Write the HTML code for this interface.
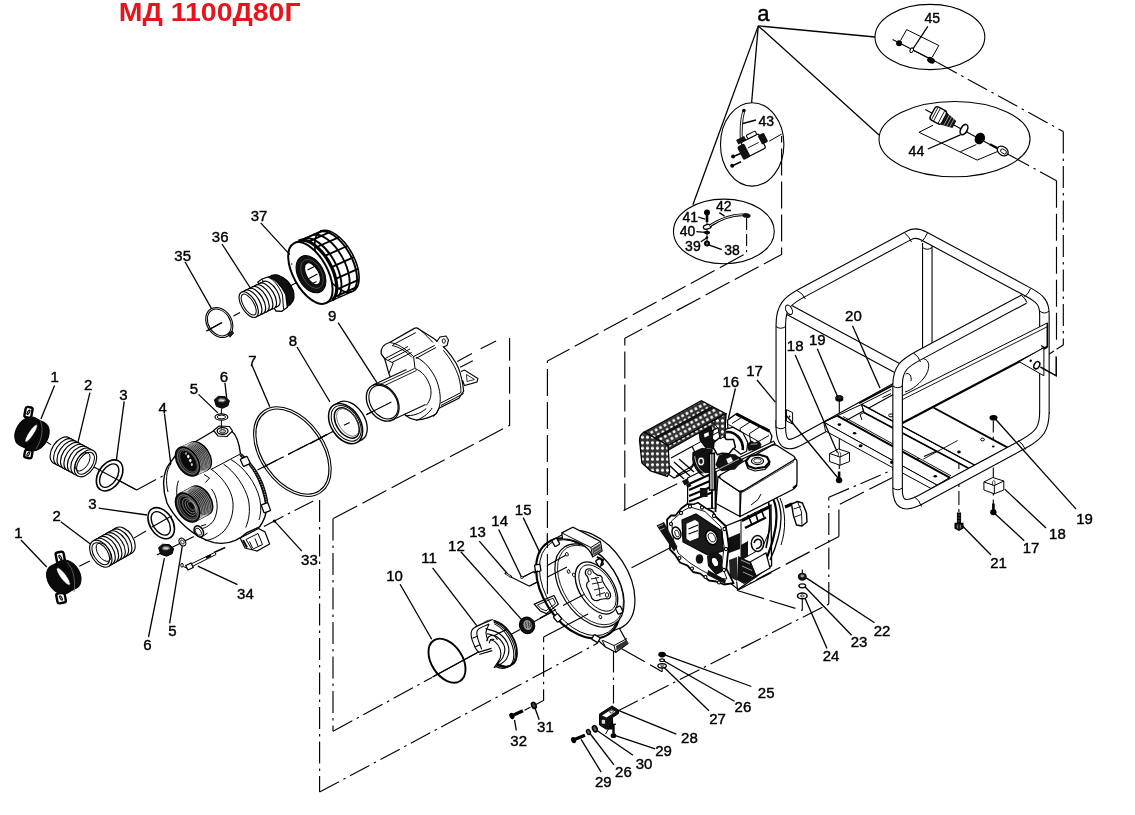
<!DOCTYPE html>
<html><head><meta charset="utf-8"><title>МД 1100Д80Г</title>
<style>
html,body{margin:0;padding:0;background:#fff;}
body{width:1135px;height:815px;overflow:hidden;font-family:"Liberation Sans",sans-serif;}
svg{display:block;}
svg text{font-family:"Liberation Sans",sans-serif;fill:#000;stroke:#000;stroke-width:0.4px;}
.l{stroke:#000;stroke-width:1;fill:none;}
.ld{stroke:#000;stroke-width:1.3;fill:none;}
.dd{stroke:#000;stroke-width:1.15;fill:none;stroke-dasharray:22 5 2.5 5;}
.dl{stroke:#000;stroke-width:1.15;fill:none;stroke-dasharray:27 6;}
.t{font-size:15px;text-anchor:middle;}
.ts{font-size:14px;text-anchor:middle;}
.w{fill:#fff;stroke:#000;stroke-width:1;}
.k{fill:#000;stroke:#000;stroke-width:1;}
</style></head><body>
<svg width="1135" height="815" viewBox="0 0 1135 815" style="will-change:transform">
<rect x="0" y="0" width="1135" height="815" fill="#fff"/>
<!-- 05_dashed.svg -->
<g class="dd">
<path d="M136.6,489.9 L176,469"/>
<path d="M257.5,470.1 L327,434.5"/>
<path d="M263.9,526.4 L313.3,500.9"/>
<path d="M319.6,500 L319.6,792.1"/>
<path d="M319.6,792.1 L598,643"/>
<path d="M333,518.6 L333,731.3"/>
<path d="M333,731.3 L432,677.4"/>
<path d="M618.2,710.8 L828.8,604"/>
<path d="M828.8,604 L828.8,497.3"/>
<path d="M828.8,497.3 L958.4,441.6"/>
<path d="M613.5,650.6 L613.5,703.4"/>
<path d="M937.5,62.6 L1063.3,131.5"/>
<path d="M1063.3,131.5 L1063.3,345"/>
<path d="M1009.8,155.2 L1056.5,180.7"/>
<path d="M533.9,705.4 L543.6,700.4 L543.6,637"/>
</g>
<g class="dl">
<path d="M333.3,518.6 L509.6,425.3 L509.6,338.1"/>
<path d="M543.6,637 L590,613"/>
<path d="M547.4,594 L547.4,361.1 L746.6,253.2"/>
<path d="M624.8,510.6 L624.8,338.3 L781.6,254.5 L781.6,136"/>
<path d="M623.5,510.5 L681.7,481.5"/>
<path d="M838.9,536.6 L838.9,504.7 L892.1,477.7"/>
<path d="M838.9,536.6 L750.4,582.8"/>
<path d="M738.1,590.7 L802.3,610.5"/>
<path d="M621.3,648.5 L662.1,671.7"/>
<path d="M1056.5,180.7 L1056.5,342.3"/>
<path d="M1063.3,345 L1038.6,360.8" style="stroke-dasharray:8 3"/>
</g>
<g class="l" style="stroke-width:1.1">
<path d="M46.7,442 L51,444.6 M91.6,465.7 L136.6,489.9"/>
<path d="M79.3,566.3 L89.9,561 M133.9,538.1 L146,531 M152,527 L172,516"/>
<path d="M156.8,554.9 L193.8,536.4"/>
<path d="M310,443.8 L333.3,431.2 M343.9,425.3 L349.7,422.4 M366.2,414.7 L391.4,402.1"/>
<path d="M457.3,361.4 L471.9,353.6 M460.2,367.2 L472.8,360.8 M480.6,348.8 L496.1,341"/>
<path d="M432.6,677 L478,652.3 M510,635 L520,629.5 M534,621.8 L551,612.5 M560,607.6 L584,594.5 M631.6,567.8 L672.1,546.7"/>
<path d="M958.4,441.6 L958.4,449"/>
<path d="M802.3,598 L802.3,610.5 M802.3,569.5 L802.3,574"/>
<path d="M662.1,667.5 L662.1,671.7"/>
<path d="M925.2,109.4 L1009.8,155.2"/>
<path d="M892.6,39.6 L937.5,62.6"/>
<path d="M746.6,217.9 L746.6,252.2" style="stroke-dasharray:12 4"/>
<path d="M958.9,455 L958.9,512" style="stroke-dasharray:14 4"/>
<path d="M839.3,401 L839.3,476" style="stroke-dasharray:14 4"/>
<path d="M993.3,420.4 L993.3,445.6 M993.3,467.4 L993.3,508" style="stroke-dasharray:12 4"/>
<path d="M529.5,586.1 L566,567.5 M533.9,572.9 L565.6,555.2" style="stroke-dasharray:11 4"/>
<path d="M511,577 L529.5,586.3 M522.5,577.3 L533.9,571.5"/>
</g>

<!-- 10_ellipses.svg -->
<g class="l" style="stroke-width:1.1">
<ellipse cx="929.9" cy="37" rx="54.9" ry="32.6"/>
<ellipse cx="954.5" cy="139.1" rx="75.5" ry="37.6"/>
<ellipse cx="752.2" cy="144.4" rx="31.7" ry="41.7"/>
<ellipse cx="723.9" cy="231.4" rx="50.4" ry="32.3"/>
</g>
<!-- 45 contents -->
<g class="l">
<path d="M900.5,40.5 L906.7,29.6 L938.8,45.5 L932.2,57.3"/>
<path d="M912.9,50.2 L930,59"/>
</g>
<circle cx="899.1" cy="43.2" r="3" fill="#000"/>
<ellipse cx="911.7" cy="50.2" rx="1.6" ry="2.4" transform="rotate(25 911.7 50.2)" fill="#fff" stroke="#000" stroke-width="1"/>
<ellipse cx="931" cy="60.3" rx="4" ry="3" transform="rotate(28 931 60.3)" fill="#000"/>
<!-- 44 contents -->
<g class="l">
<path d="M933.1,125.2 L919,132.3 L977.2,160.1 L999.2,150.8"/>
<path d="M960.4,151.7 L976.3,144.6"/>
</g>
<g transform="rotate(28 942 118)">
<rect x="931" y="110" width="13" height="15" rx="3" fill="#fff" stroke="#000" stroke-width="1.4"/>
<path d="M933.5,110.5v14 M936,110v15 M941,110v15" stroke="#000" stroke-width="0.8"/>
<path d="M944,111 L956,114 L956,122 L944,124.5 Z" fill="#111"/>
<path d="M947,111.5v12.5 M950,112.5v10.5 M953,113v9.5" stroke="#fff" stroke-width="0.5"/>
</g>
<ellipse cx="964" cy="129.6" rx="3.2" ry="5.6" transform="rotate(28 964 129.6)" fill="#fff" stroke="#000" stroke-width="1.6"/>
<ellipse cx="979.8" cy="138.5" rx="5" ry="6" transform="rotate(28 979.8 138.5)" fill="#000"/>
<path d="M990,144.2 L997,148" stroke="#000" stroke-width="2.2"/>
<ellipse cx="1002.7" cy="151" rx="4.2" ry="6" transform="rotate(-55 1002.7 151)" fill="#fff" stroke="#000" stroke-width="1.3"/>
<ellipse cx="1003.5" cy="151.5" rx="2" ry="3.3" transform="rotate(-55 1003.5 151.5)" fill="#fff" stroke="#000" stroke-width="0.9"/>
<!-- 43 contents: starter motor -->
<circle cx="743.9" cy="110.5" r="1.8" fill="#000"/>
<path d="M743,111 C740.5,117 739.8,128 740.3,139 M744.5,112 C742.3,120 742,130 742.3,139" class="l" style="stroke-width:0.9"/>
<g transform="rotate(-27 752 147)">
<rect x="744" y="138" width="20" height="16" rx="2" fill="#fff" stroke="#000" stroke-width="1.2"/>
<rect x="738.5" y="140" width="8" height="15" rx="2" fill="#111"/>
<rect x="762" y="139.500" width="7" height="10" rx="1.5" fill="#111"/>
<path d="M748,146 h12" stroke="#000" stroke-width="0.8"/>
<rect x="741" y="133.5" width="9" height="5" fill="#111"/>
<rect x="752" y="134" width="10" height="4" rx="1" fill="#fff" stroke="#000" stroke-width="1"/>
</g>
<path d="M734,156.2 L741,153.2" stroke="#000" stroke-width="1.6"/><circle cx="733.1" cy="156.6" r="2" fill="#000"/>
<path d="M733,165.4 L741,161.8" stroke="#000" stroke-width="1.6"/><circle cx="732.2" cy="165.8" r="2" fill="#000"/>
<path d="M769.3,141.1 L781.6,134.1" class="l"/>
<!-- 38-42 contents -->
<circle cx="707" cy="212.6" r="3" fill="#000"/>
<path d="M707,213 V222" stroke="#000" stroke-width="2.6"/>
<path d="M707,222 V243" stroke="#000" stroke-width="1"/>
<ellipse cx="707.3" cy="226.8" rx="4" ry="2.2" transform="rotate(-15 707.3 226.8)" fill="#fff" stroke="#000" stroke-width="1.4"/>
<path d="M709.5,226 C720,219 733,214.5 743,214.8" fill="none" stroke="#000" stroke-width="2.8"/>
<path d="M709.5,226 C720,219 733,214.5 743,214.8" fill="none" stroke="#fff" stroke-width="0.9"/>
<ellipse cx="746.5" cy="215.500" rx="4.2" ry="2.4" transform="rotate(12 746.5 215.5)" fill="#111"/>
<ellipse cx="707" cy="232.5" rx="3" ry="1.8" fill="#000"/>
<circle cx="707" cy="237.5" r="1.3" fill="#000"/>
<circle cx="707" cy="243.6" r="3" fill="#000"/><circle cx="707" cy="243.6" r="1" fill="#888"/>

<!-- 20_frame_back.svg -->
<path d="M927.3,243 V353" fill="none" stroke="#000" stroke-width="10.6" stroke-linecap="butt" />
<path d="M927.3,243 V353" fill="none" stroke="#fff" stroke-width="8.4" stroke-linecap="butt" />
<path d="M922.5,247.5 Q927.3,251 932.1,247.5" class="l"/><path d="M780.8,420 V426 C780.8,447 789,446.500 800,440.5 L896,387.5" fill="none" stroke="#000" stroke-width="10.6" stroke-linecap="butt" />
<path d="M780.8,420 V426 C780.8,447 789,446.500 800,440.5 L896,387.5" fill="none" stroke="#fff" stroke-width="8.4" stroke-linecap="butt" />
<path d="M921,358.5 C929,358 931,366 926,375 C921,383 912,390 905,392" class="l"/><path d="M905.5,374 C909,372 912,376 911,381" class="l"/><path d="M780.8,428 V325 C780.8,306 788,300.500 801.4,293.2 L909.3,235.2 C914,232.600 920,233.800 924.6,236.4 L1029.5,292.8 C1040,298.500 1044.4,303 1044.4,314 V414" fill="none" stroke="#000" stroke-width="10.6" stroke-linecap="butt" />
<path d="M780.8,428 V325 C780.8,306 788,300.500 801.4,293.2 L909.3,235.2 C914,232.600 920,233.800 924.6,236.4 L1029.5,292.8 C1040,298.500 1044.4,303 1044.4,314 V414" fill="none" stroke="#fff" stroke-width="8.4" stroke-linecap="butt" />
<g class="l"><path d="M776,326.5 Q780.8,330 785.6,326.500"/><path d="M797,290.5 Q802.5,293 805.5,299"/><path d="M904.5,233 Q909,236 911.5,242"/><path d="M927.5,233 Q925,238 921.5,242"/><path d="M1030.500,288.500 Q1029,293 1024.500,297"/><path d="M1039.6,311 Q1044.4,315 1049.2,311"/><path d="M1039.6,413 Q1044.4,416.5 1049.2,413"/><path d="M776,427 Q780.8,430.5 785.6,427"/></g><path d="M786.4,409.6 L792.6,412.6 L792.6,424 L786.4,421 Z" class="w"/><circle cx="789.6" cy="416.5" r="0.9" fill="#000"/><path d="M789.3,310 L898,368.5" fill="none" stroke="#000" stroke-width="11.4"/><path d="M789.3,310 L898,368.5" fill="none" stroke="#fff" stroke-width="9.2"/><ellipse cx="789" cy="309.8" rx="3" ry="5.1" transform="rotate(-28 789 309.8)" class="w"/>
<!-- 30_base.svg -->
<!-- base rails & plates -->
<g>
<!-- right plate -->
<path d="M933.7,407.8 L1008.2,447.9 L975,465.3 L900,424 Z" fill="#fff" stroke="none"/>
<!-- rail B -->
<path d="M861.5,404.4 L975,465.3 L968.5,468.2 L864,412.5 Z" class="w"/>
<path d="M864,412.5 L968.5,468.2" stroke="#000" stroke-width="1.6" fill="none"/>
<path d="M861.5,404.4 L864,412.5 M864,412.5 L860,414.500 L862,420" stroke="#000" stroke-width="1" fill="none"/>
<!-- rail A top face -->
<path d="M823.7,422.2 L837.5,415.8 L949.7,477.7 L937.1,485.2 Z" class="w"/>
<path d="M823.7,422.2 L937.1,485.2 L931,488.5 L825.5,431 Z" class="w"/>
<path d="M937.1,485.2 L949.7,477.7 L951.800,481.500 L934.6,491 Z" class="w"/>
<g stroke="#000" fill="none">
<path d="M837.5,415.8 L949.7,477.7" stroke-width="2"/>
<path d="M843,416.5 L951,475.8" stroke-width="0.9"/>
<path d="M861.5,404.4 L975,465.3" stroke-width="1.3"/>
<path d="M933.7,407.8 L1008.2,447.9" stroke-width="1.8"/>
<path d="M975,465.3 L1008.2,447.9" stroke-width="1.8"/>
<path d="M951,478.5 L975,465.3" stroke-width="1.1"/>
<path d="M859,403.3 L892.3,385.7" stroke-width="1.8"/>
<path d="M823.7,422.2 L861.500,404.4 L891,389.500" stroke-width="1"/>
<path d="M882.4,397.6 L891,393.6" stroke-width="1"/>
<path d="M923.4,459 L957.7,440.5" stroke-width="0.9"/>
</g>
<g fill="#000">
<ellipse cx="839.4" cy="424.6" rx="1.8" ry="1.3"/><ellipse cx="854.6" cy="433.2" rx="1.8" ry="1.3"/><ellipse cx="860.6" cy="445.8" rx="2" ry="1.5"/>
<ellipse cx="935.3" cy="476.2" rx="1.8" ry="1.3"/><ellipse cx="959" cy="452" rx="1.8" ry="1.4"/><ellipse cx="891.6" cy="462.3" rx="1.6" ry="1.6"/>
<ellipse cx="993.3" cy="446.5" rx="1.4" ry="1.1"/>
</g>
<ellipse cx="891" cy="415.4" rx="2.4" ry="1.5" class="w"/>
<ellipse cx="982.500" cy="439.5" rx="1.9" ry="1.4" class="w"/>
</g>
<!-- panel 20 -->
<path d="M902,396 L1047.4,322.9 L1047.4,346.7 L902,423.3 Z" class="w"/>
<path d="M902,399.8 L1047.4,326.7" class="l" style="stroke-width:0.9"/>
<path d="M902,423.3 L1047.4,346.7" stroke="#000" stroke-width="2.2" fill="none"/>
<path d="M1047.4,322.9 V347" stroke="#000" stroke-width="1.6" fill="none"/>
<path d="M1019.2,361.7 L1043.9,347.6 L1043.9,375.8 Z" class="w"/>
<ellipse cx="1036.8" cy="365.2" rx="2.6" ry="3.8" transform="rotate(30 1036.8 365.2)" fill="#fff" stroke="#000" stroke-width="1.5"/>
<circle cx="1030.7" cy="360.8" r="1.2" fill="#000"/>
<path d="M1040.4,367 L1056.2,375.8 L1056.2,356.4" stroke="#000" stroke-width="1.5" fill="none"/>
<path d="M1041,345.5 l3.500,2 l-3.500,1" stroke="#000" stroke-width="1.2" fill="none"/>

<!-- 40_frame_front.svg -->
<path d="M1044.4,412 C1044.4,428 1040,435 1023.65,443.85 L918.85,500.6 C903,508.500 897.6,503 897.6,489 V385 C897.6,368 905,363 917.85,355.95 L1024.25,299" fill="none" stroke="#000" stroke-width="10.6" stroke-linecap="butt" />
<path d="M1044.4,412 C1044.4,428 1040,435 1023.65,443.85 L918.85,500.6 C903,508.500 897.6,503 897.6,489 V385 C897.6,368 905,363 917.85,355.95 L1024.25,299" fill="none" stroke="#fff" stroke-width="8.4" stroke-linecap="butt" />
<g class="l"><path d="M1018,440.5 Q1022.5,443 1025.5,449.500"/><path d="M914.5,497 Q919.500,500 921.5,506.500"/><path d="M892.8,488 Q897.6,491.5 902.4,488"/><path d="M892.8,386 Q897.6,389.5 902.4,386"/><path d="M913.500,353 Q918.500,356 920.5,362"/><path d="M1021.5,295.5 Q1025.500,298 1027,302.5"/></g>
<!-- 50_hardware.svg -->
<!-- nuts 19 -->
<ellipse cx="839.3" cy="399" rx="4" ry="2.8" fill="#000"/><ellipse cx="839.3" cy="397.6" rx="3.6" ry="2" fill="#222" stroke="#000"/>
<ellipse cx="993.5" cy="417.8" rx="4" ry="2.8" fill="#000"/>
<!-- blocks 18 -->
<g id="blk">
<path d="M829.6,453.5 L838.5,449 L849.5,452.5 L849.5,461.500 L840,465.3 L829.6,461.5 Z" class="w"/>
<path d="M829.6,453.5 L840,457 L849.5,452.5 M840,457 V465.300" class="l"/>
<path d="M838.300,457 v-4 q1.200,-2 2.400,0 v4" class="l" style="stroke-width:0.7"/>
</g>
<use href="#blk" x="154.3" y="28.5"/>
<!-- bolts 17 -->
<g id="b17"><path d="M839.1,471.500 V478" stroke="#000" stroke-width="2.6"/><ellipse cx="839.1" cy="480.3" rx="3.2" ry="3" fill="#000"/></g>
<use href="#b17" x="154.3" y="32"/>
<!-- bolt 21 -->
<path d="M959,512.5 V524" stroke="#000" stroke-width="4.2"/><path d="M957.500,515 h3 M957.500,518 h3 M957.500,521 h3" stroke="#999" stroke-width="0.600"/>
<path d="M955.2,523.500 h7.600 v4.500 l-3.800,2.200 l-3.800,-2.200 Z" fill="#222" stroke="#000" stroke-width="1.4"/><path d="M957.500,525 v3.500 M960.500,525 v3.500" stroke="#aaa" stroke-width="0.600"/>
<!-- 22 23 24 -->
<ellipse cx="802.3" cy="576.7" rx="4.500" ry="4" fill="#111"/><ellipse cx="802.3" cy="576" rx="2" ry="1.4" fill="#999"/>
<ellipse cx="802.3" cy="585.8" rx="3.4" ry="2" fill="#fff" stroke="#000" stroke-width="1.3"/>
<ellipse cx="802.3" cy="595.9" rx="4.8" ry="2.8" fill="#fff" stroke="#000" stroke-width="1.5"/><ellipse cx="802.3" cy="595.9" rx="1.800" ry="1" fill="#fff" stroke="#000" stroke-width="0.8"/>
<!-- 25 26 27 -->
<ellipse cx="662.1" cy="654.6" rx="3.8" ry="2.8" fill="#000"/>
<ellipse cx="662.1" cy="660.2" rx="2.400" ry="1.3" fill="#fff" stroke="#000" stroke-width="1.1"/>
<ellipse cx="662.1" cy="665.8" rx="4.2" ry="2.2" fill="#fff" stroke="#000" stroke-width="1.3"/><ellipse cx="662.1" cy="665.8" rx="1.500" ry="0.8" fill="none" stroke="#000" stroke-width="0.7"/>
<!-- bracket 28 -->
<path d="M599.5,714 L612,706 L618.5,710 L618.5,713.500 L612.5,717.500 L612.5,729 L606,729 L599.5,725 Z" fill="#111" stroke="#000"/>
<path d="M602,715.500 L611.5,709.500 L615.500,711.800 L606.5,717.500 Z" fill="#fff"/>
<ellipse cx="611.500" cy="711.800" rx="2" ry="1.200" fill="#fff" stroke="#000" stroke-width="0.7"/>
<rect x="601.300" y="719.500" width="4" height="4.500" fill="#ddd" stroke="#000" stroke-width="0.6"/>
<path d="M605.5,734.1 L612.9,721.4" class="l"/>
<!-- bolt 29 right -->
<path d="M613.5,724 V733" stroke="#000" stroke-width="2.4"/><path d="M611,724.200 h5" stroke="#000" stroke-width="1.2"/><ellipse cx="613.5" cy="735.5" rx="2.800" ry="2.600" fill="#000"/>
<!-- washers 30, 26 -->
<ellipse cx="594.9" cy="728.8" rx="2.2" ry="3.2" transform="rotate(-25 594.9 728.8)" fill="#555" stroke="#000" stroke-width="1.6"/>
<ellipse cx="588.5" cy="732" rx="1.8" ry="2.600" transform="rotate(-25 588.5 732)" fill="#666" stroke="#000" stroke-width="1.3"/>
<!-- bolt 29 left -->
<path d="M574.500,739.600 L585,735.200" stroke="#000" stroke-width="3.300"/><ellipse cx="573.5" cy="740.2" rx="2.400" ry="3.200" transform="rotate(-25 573.5 740.2)" fill="#000"/>
<!-- 31 32 -->
<ellipse cx="533.9" cy="705.400" rx="2.1" ry="3.2" transform="rotate(-25 533.9 705.4)" fill="#444" stroke="#000" stroke-width="1.600"/>
<path d="M524.500,710.200 L530.500,707.300" stroke="#000" stroke-width="1.1"/>
<path d="M513,715.300 L523,710.800" stroke="#000" stroke-width="3.300"/><ellipse cx="511.800" cy="716" rx="2.400" ry="3.200" transform="rotate(-25 511.8 716)" fill="#000"/>

<!-- 60_pump_left.svg -->
<rect x="25.0" y="407.1" width="7.0" height="10.5" rx="2" fill="#fff" stroke="#000" stroke-width="2.4" transform="rotate(11 28.5 412.3)"/>
<ellipse cx="28.5" cy="412.3" rx="0.9" ry="2.4" fill="#fff" stroke="#000" stroke-width="1.2" transform="rotate(33 28.5 412.3)"/>
<rect x="24.6" y="450.0" width="7.5" height="8.0" rx="2" fill="#fff" stroke="#000" stroke-width="2.4" transform="rotate(11 28.3 454.0)"/>
<ellipse cx="28.3" cy="454.0" rx="0.9" ry="2.4" fill="#fff" stroke="#000" stroke-width="1.2" transform="rotate(33 28.3 454.0)"/>
<path d="M19.5,445.2 L28.7,450.0 L44.5,422.8 L35.3,418.0 Z" fill="#0a0a0a" stroke="none"/>
<path d="M19.5,445.2 L28.7,450.0 M44.5,422.8 L35.3,418.0" fill="none" stroke="#000" stroke-width="1"/>
<ellipse cx="36.6" cy="436.4" rx="11.0" ry="15.8" transform="rotate(33 36.6 436.4)" fill="#0a0a0a" stroke="#000" stroke-width="1" />
<ellipse cx="27.4" cy="431.6" rx="11.0" ry="15.8" transform="rotate(33 27.4 431.6)" fill="#0a0a0a" stroke="#000" stroke-width="1" />
<ellipse cx="31.2" cy="433.3" rx="2.5" ry="10.4" transform="rotate(34 31.2 433.3)" fill="#fff" stroke="#000" stroke-width="0.5" />
<path d="M40,420 C44,428 42,440 36,449" fill="none" stroke="#777" stroke-width="0.7"/><rect x="56.3" y="552.0" width="8.0" height="11.0" rx="2" fill="#fff" stroke="#000" stroke-width="2.4" transform="rotate(-11 60.3 557.5)"/>
<ellipse cx="60.3" cy="557.5" rx="0.9" ry="2.4" fill="#fff" stroke="#000" stroke-width="1.2" transform="rotate(-33 60.3 557.5)"/>
<rect x="56.8" y="593.0" width="8.5" height="10.0" rx="2" fill="#fff" stroke="#000" stroke-width="2.4" transform="rotate(-11 61.0 598.0)"/>
<ellipse cx="61.0" cy="598.0" rx="0.9" ry="2.4" fill="#fff" stroke="#000" stroke-width="1.2" transform="rotate(-33 61.0 598.0)"/>
<path d="M67.3,593.0 L76.5,588.0 L60.3,561.0 L51.1,566.0 Z" fill="#0a0a0a" stroke="none"/>
<path d="M67.3,593.0 L76.5,588.0 M60.3,561.0 L51.1,566.0" fill="none" stroke="#000" stroke-width="1"/>
<ellipse cx="68.4" cy="574.5" rx="11.0" ry="15.8" transform="rotate(-33 68.4 574.5)" fill="#0a0a0a" stroke="#000" stroke-width="1" />
<ellipse cx="59.2" cy="579.5" rx="11.0" ry="15.8" transform="rotate(-33 59.2 579.5)" fill="#0a0a0a" stroke="#000" stroke-width="1" />
<ellipse cx="63.4" cy="576.5" rx="2.9" ry="10.6" transform="rotate(-37 63.4 576.5)" fill="#fff" stroke="#000" stroke-width="0.5" />
<path d="M67,562 C73,568 76,580 74,592" fill="none" stroke="#777" stroke-width="0.7"/><path d="M53.6,463.1 L77.8,476.0 L93.2,450.6 L69.0,437.7 Z" fill="#fff" stroke="none"/>
<path d="M53.6,463.1 L77.8,476.0 M93.2,450.6 L69.0,437.7" fill="none" stroke="#000" stroke-width="1"/>
<ellipse cx="61.3" cy="450.4" rx="9.2" ry="14.9" transform="rotate(33 61.3 450.4)" fill="#fff" stroke="#000" stroke-width="1.15" />
<ellipse cx="64.8" cy="452.2" rx="9.2" ry="14.9" transform="rotate(33 64.8 452.2)" fill="#fff" stroke="#000" stroke-width="1.15" />
<ellipse cx="68.2" cy="454.1" rx="9.2" ry="14.9" transform="rotate(33 68.2 454.1)" fill="#fff" stroke="#000" stroke-width="1.15" />
<ellipse cx="71.7" cy="455.9" rx="9.2" ry="14.9" transform="rotate(33 71.7 455.9)" fill="#fff" stroke="#000" stroke-width="1.15" />
<ellipse cx="75.1" cy="457.8" rx="9.2" ry="14.9" transform="rotate(33 75.1 457.8)" fill="#fff" stroke="#000" stroke-width="1.15" />
<ellipse cx="78.6" cy="459.6" rx="9.2" ry="14.9" transform="rotate(33 78.6 459.6)" fill="#fff" stroke="#000" stroke-width="1.15" />
<ellipse cx="82.0" cy="461.5" rx="9.2" ry="14.9" transform="rotate(33 82.0 461.5)" fill="#fff" stroke="#000" stroke-width="1.15" />
<ellipse cx="85.5" cy="463.3" rx="9.2" ry="14.9" transform="rotate(33 85.5 463.3)" fill="#fff" stroke="#000" stroke-width="1.15" />
<ellipse cx="85.5" cy="463.3" rx="7.0" ry="12.3" transform="rotate(33 85.5 463.3)" fill="#fff" stroke="#000" stroke-width="1" />
<ellipse cx="82.6" cy="461.8" rx="5.8" ry="10.4" transform="rotate(33 82.6 461.8)" fill="none" stroke="#000" stroke-width="0.9" />
<path d="M116.2,527.8 L93.0,541.0 L108.6,566.4 L131.8,553.2 Z" fill="#fff" stroke="none"/>
<path d="M116.2,527.8 L93.0,541.0 M108.6,566.4 L131.8,553.2" fill="none" stroke="#000" stroke-width="1"/>
<ellipse cx="124.0" cy="540.5" rx="9.2" ry="14.9" transform="rotate(-33 124.0 540.5)" fill="#fff" stroke="#000" stroke-width="1.15" />
<ellipse cx="120.7" cy="542.4" rx="9.2" ry="14.9" transform="rotate(-33 120.7 542.4)" fill="#fff" stroke="#000" stroke-width="1.15" />
<ellipse cx="117.4" cy="544.3" rx="9.2" ry="14.9" transform="rotate(-33 117.4 544.3)" fill="#fff" stroke="#000" stroke-width="1.15" />
<ellipse cx="114.1" cy="546.2" rx="9.2" ry="14.9" transform="rotate(-33 114.1 546.2)" fill="#fff" stroke="#000" stroke-width="1.15" />
<ellipse cx="110.7" cy="548.0" rx="9.2" ry="14.9" transform="rotate(-33 110.7 548.0)" fill="#fff" stroke="#000" stroke-width="1.15" />
<ellipse cx="107.4" cy="549.9" rx="9.2" ry="14.9" transform="rotate(-33 107.4 549.9)" fill="#fff" stroke="#000" stroke-width="1.15" />
<ellipse cx="104.1" cy="551.8" rx="9.2" ry="14.9" transform="rotate(-33 104.1 551.8)" fill="#fff" stroke="#000" stroke-width="1.15" />
<ellipse cx="100.8" cy="553.7" rx="9.2" ry="14.9" transform="rotate(-33 100.8 553.7)" fill="#fff" stroke="#000" stroke-width="1.15" />
<ellipse cx="100.8" cy="553.7" rx="7.0" ry="12.3" transform="rotate(-33 100.8 553.7)" fill="#fff" stroke="#000" stroke-width="1" />
<ellipse cx="103.6" cy="552.1" rx="5.8" ry="10.4" transform="rotate(-33 103.6 552.1)" fill="none" stroke="#000" stroke-width="0.9" />
<ellipse cx="109.6" cy="475.4" rx="11.3" ry="17.0" transform="rotate(33 109.6 475.4)" fill="#fff" stroke="#000" stroke-width="1.6" />
<ellipse cx="109.2" cy="475.6" rx="7.8" ry="13.0" transform="rotate(33 109.2 475.6)" fill="#fff" stroke="#000" stroke-width="1.4" />
<ellipse cx="161.2" cy="523.2" rx="11.3" ry="17.0" transform="rotate(-33 161.2 523.2)" fill="#fff" stroke="#000" stroke-width="1.6" />
<ellipse cx="160.8" cy="523.4" rx="7.8" ry="13.0" transform="rotate(-33 160.8 523.4)" fill="#fff" stroke="#000" stroke-width="1.4" />

<!-- 62_housing4.svg -->
<path d="M194,442.5 L213.500,431 C218,427.500 228,427.500 232,431.500 C238,436 239.500,446 240.5,454 C253,466 262.5,484 266.2,506 C267.2,515 263.500,521.5 259.5,527 L247,532.5 C238,541 226,545 214,542.6 C194,537.5 176,520.5 167,503 C161.800,488 162.500,472 170,463 C175,455 184,447 194,442.5 Z" fill="#fff" stroke="#000" stroke-width="1.4"/>
<g fill="none" stroke="#000" stroke-width="1"><path d="M210.7,468.8 C221,476 231,488 232.8,501 C234,512 231,523 224,531 C218,537 211,540 205.2,540.5"/><path d="M223.6,464.2 C234,471 245,486 248.500,500 C250.500,511 249,520 245.7,527.5"/><path d="M231,459.6 C244,467 256,483 259.800,499 C261.500,508 260.800,514 259,520"/><path d="M240.2,454 L210.7,469.7"/><path d="M178.5,480.7 C176,487 176,497 179,505 M211.500,489 C218,497 219,510 214,520 C210,526 204,529 198,529"/><path d="M170.8,464 C166,470 165.5,482 168,492"/></g>
<path d="M240.5,454.5 C251,463.500 259.5,476 263.500,489 C266,497 267,503 266.8,508" fill="none" stroke="#111" stroke-width="3.4"/>
<path d="M240.5,454.5 C251,463.500 259.5,476 263.500,489 C266,497 267,503 266.8,508" fill="none" stroke="#fff" stroke-width="0.8" stroke-dasharray="1 1.6"/>
<rect x="241.500" y="457.500" width="7.500" height="8" rx="1" fill="#fff" stroke="#000" stroke-width="1.3" transform="rotate(-25 245 461.5)"/>
<rect x="262.5" y="503.500" width="7" height="8.500" rx="1" fill="#fff" stroke="#000" stroke-width="1.3" transform="rotate(-20 266 508)"/>
<path d="M213.500,430.500 L219,426 L229.500,426.500 L232.500,431 L227,436.500 L218,436 Z" fill="#fff" stroke="#000" stroke-width="1.2"/>
<ellipse cx="222.6" cy="431.0" rx="5.4" ry="3.4" fill="#fff" stroke="#000" stroke-width="1.3" />
<ellipse cx="222.6" cy="431.3" rx="3.0" ry="1.8" fill="#bbb" stroke="#000" stroke-width="0.8" />
<path d="M240.2,538 L258.500,528.500 L265,532 L269.6,544 L257,551 L245,548 Z" fill="#fff" stroke="#000" stroke-width="1.2"/>
<path d="M246,539.500 L258,533.500 L262.500,544.500 L252,549.500 Z M249.500,541.500 L252.500,548 M255,538.500 L258,546" fill="none" stroke="#000" stroke-width="1"/>
<path d="M243,540 l4,7.500" stroke="#000" stroke-width="2"/>
<ellipse cx="198.8" cy="531.4" rx="4.2" ry="6.0" transform="rotate(-33 198.8 531.4)" fill="#fff" stroke="#000" stroke-width="1.5" />
<ellipse cx="198.3" cy="531.7" rx="2.4" ry="4.0" transform="rotate(-33 198.3 531.7)" fill="#fff" stroke="#000" stroke-width="0.9" />
<path d="M201,526 L206,524.500 M202.500,536.500 L207.500,533" stroke="#000" stroke-width="1" fill="none"/>
<path d="M195.3,475.5 L207.3,470.1 L191.7,442.3 L179.7,447.7 Z" fill="#222" stroke="none"/>
<path d="M195.3,475.5 L207.3,470.1 M191.7,442.3 L179.7,447.7" fill="none" stroke="#000" stroke-width="1.2"/>
<ellipse cx="199.5" cy="456.2" rx="10.0" ry="16.0" transform="rotate(-33 199.5 456.2)" fill="#222" stroke="#000" stroke-width="1.2" />
<ellipse cx="188.8" cy="461.0" rx="10.0" ry="16.0" transform="rotate(-33 188.8 461.0)" fill="none" stroke="#ddd" stroke-width="0.5" />
<ellipse cx="190.2" cy="460.4" rx="10.0" ry="16.0" transform="rotate(-33 190.2 460.4)" fill="none" stroke="#ddd" stroke-width="0.5" />
<ellipse cx="191.5" cy="459.8" rx="10.0" ry="16.0" transform="rotate(-33 191.5 459.8)" fill="none" stroke="#ddd" stroke-width="0.5" />
<ellipse cx="192.8" cy="459.2" rx="10.0" ry="16.0" transform="rotate(-33 192.8 459.2)" fill="none" stroke="#ddd" stroke-width="0.5" />
<ellipse cx="194.2" cy="458.6" rx="10.0" ry="16.0" transform="rotate(-33 194.2 458.6)" fill="none" stroke="#ddd" stroke-width="0.5" />
<ellipse cx="195.5" cy="458.0" rx="10.0" ry="16.0" transform="rotate(-33 195.5 458.0)" fill="none" stroke="#ddd" stroke-width="0.5" />
<ellipse cx="196.8" cy="457.4" rx="10.0" ry="16.0" transform="rotate(-33 196.8 457.4)" fill="none" stroke="#ddd" stroke-width="0.5" />
<ellipse cx="198.2" cy="456.8" rx="10.0" ry="16.0" transform="rotate(-33 198.2 456.8)" fill="none" stroke="#ddd" stroke-width="0.5" />
<ellipse cx="187.5" cy="461.6" rx="10.0" ry="16.0" transform="rotate(-33 187.5 461.6)" fill="#222" stroke="#000" stroke-width="1.4" />
<ellipse cx="187.9" cy="461.4" rx="8.5" ry="14.0" transform="rotate(-33 187.9 461.4)" fill="none" stroke="#bbb" stroke-width="0.5" />
<ellipse cx="188.4" cy="461.2" rx="7.0" ry="12.2" transform="rotate(-33 188.4 461.2)" fill="#0a0a0a" stroke="#888" stroke-width="0.5" />
<ellipse cx="188.300" cy="456.500" rx="1.2" ry="1.800" fill="#fff"/><ellipse cx="190.300" cy="460.500" rx="1.2" ry="1.700" fill="#eee"/><ellipse cx="191.800" cy="464.500" rx="1" ry="1.500" fill="#ccc"/><ellipse cx="186" cy="453.500" rx="0.800" ry="1.200" fill="#ccc"/>
<path d="M195.8,521.3 L209.1,514.1 L192.5,486.7 L179.2,493.9 Z" fill="#222" stroke="none"/>
<path d="M195.8,521.3 L209.1,514.1 M192.5,486.7 L179.2,493.9" fill="none" stroke="#000" stroke-width="1.2"/>
<ellipse cx="200.8" cy="500.4" rx="10.0" ry="16.0" transform="rotate(-33 200.8 500.4)" fill="#222" stroke="#000" stroke-width="1.2" />
<ellipse cx="189.0" cy="506.8" rx="10.0" ry="16.0" transform="rotate(-33 189.0 506.8)" fill="none" stroke="#ddd" stroke-width="0.5" />
<ellipse cx="190.5" cy="506.0" rx="10.0" ry="16.0" transform="rotate(-33 190.5 506.0)" fill="none" stroke="#ddd" stroke-width="0.5" />
<ellipse cx="191.9" cy="505.2" rx="10.0" ry="16.0" transform="rotate(-33 191.9 505.2)" fill="none" stroke="#ddd" stroke-width="0.5" />
<ellipse cx="193.4" cy="504.4" rx="10.0" ry="16.0" transform="rotate(-33 193.4 504.4)" fill="none" stroke="#ddd" stroke-width="0.5" />
<ellipse cx="194.9" cy="503.6" rx="10.0" ry="16.0" transform="rotate(-33 194.9 503.6)" fill="none" stroke="#ddd" stroke-width="0.5" />
<ellipse cx="196.4" cy="502.8" rx="10.0" ry="16.0" transform="rotate(-33 196.4 502.8)" fill="none" stroke="#ddd" stroke-width="0.5" />
<ellipse cx="197.8" cy="502.0" rx="10.0" ry="16.0" transform="rotate(-33 197.8 502.0)" fill="none" stroke="#ddd" stroke-width="0.5" />
<ellipse cx="199.3" cy="501.2" rx="10.0" ry="16.0" transform="rotate(-33 199.3 501.2)" fill="none" stroke="#ddd" stroke-width="0.5" />
<ellipse cx="187.5" cy="507.6" rx="10.0" ry="16.0" transform="rotate(-33 187.5 507.6)" fill="#222" stroke="#000" stroke-width="1.4" />
<ellipse cx="187.9" cy="507.4" rx="8.5" ry="14.0" transform="rotate(-33 187.9 507.4)" fill="none" stroke="#bbb" stroke-width="0.5" />
<ellipse cx="188.4" cy="507.2" rx="7.0" ry="12.2" transform="rotate(-33 188.4 507.2)" fill="#0a0a0a" stroke="#888" stroke-width="0.5" />
<ellipse cx="189.6" cy="506.8" rx="5.6" ry="9.6" transform="rotate(-33 189.6 506.8)" fill="none" stroke="#bbb" stroke-width="0.55" />
<ellipse cx="190.5" cy="506.4" rx="4.2" ry="7.4" transform="rotate(-33 190.5 506.4)" fill="none" stroke="#bbb" stroke-width="0.55" />
<ellipse cx="191.4" cy="505.9" rx="2.8" ry="5.0" transform="rotate(-33 191.4 505.9)" fill="none" stroke="#bbb" stroke-width="0.55" />
<path d="M204,474.500 L209.500,478 L205.500,482.500" fill="none" stroke="#000" stroke-width="1"/>

<!-- 64_small_pump.svg -->
<g transform="translate(221.4 402.3)"><path d="M-7,-2.500 L-3,-6 L4,-5.500 L8,-1.500 L6.500,3.500 L1,6 L-5,4 Z" fill="#111" stroke="#000" stroke-width="1"/><path d="M-4,-2.500 L-1,-4.500 L3.500,-4 L5,-1.500 L1.500,0.500 L-3,0 Z" fill="#888" stroke="#000" stroke-width="0.6"/><path d="M-2,-2.200 L2.500,-1.800" stroke="#fff" stroke-width="0.9"/></g>
<ellipse cx="221.4" cy="417.0" rx="6.4" ry="3.2" fill="#fff" stroke="#000" stroke-width="1.2" />
<ellipse cx="221.4" cy="417.0" rx="4.2" ry="1.9" fill="#fff" stroke="#000" stroke-width="1" />
<path d="M221.4,408.500 V414 M221.400,420.500 V428.500" stroke="#000" stroke-width="1" fill="none"/>
<g transform="translate(165.6 550.2)"><path d="M-7,-2.500 L-3,-6 L4,-5.500 L8,-1.500 L6.500,3.500 L1,6 L-5,4 Z" fill="#111" stroke="#000" stroke-width="1"/><path d="M-4,-2.500 L-1,-4.500 L3.500,-4 L5,-1.500 L1.500,0.500 L-3,0 Z" fill="#888" stroke="#000" stroke-width="0.6"/><path d="M-2,-2.200 L2.500,-1.800" stroke="#fff" stroke-width="0.9"/></g>
<ellipse cx="182.4" cy="542.0" rx="3.0" ry="4.3" transform="rotate(-33 182.4 542.0)" fill="#fff" stroke="#000" stroke-width="1.2" />
<ellipse cx="182.4" cy="542.0" rx="1.4" ry="2.3" transform="rotate(-33 182.4 542.0)" fill="#fff" stroke="#000" stroke-width="0.8" />
<path d="M225.200,547.500 L214,552.500" stroke="#000" stroke-width="1.400" fill="none"/>
<path d="M215,552.300 L190,564.500 L191.200,567 L216,554.500 Z" fill="#fff" stroke="#000" stroke-width="1"/>
<path d="M211,555.200 L206,557.700" stroke="#000" stroke-width="2.400"/>
<rect x="186.500" y="564" width="6" height="5" fill="#fff" stroke="#000" stroke-width="1.2" transform="rotate(-26 189.5 566.5)"/>
<ellipse cx="182.0" cy="565.2" rx="1.2" ry="2.0" fill="#fff" stroke="#000" stroke-width="1" />
<path d="M183.200,566.500 L187,568.200" stroke="#000" stroke-width="1"/>
<circle cx="274.4" cy="521" r="1.600" fill="#000"/>

<!-- 66_mid.svg -->
<ellipse cx="292.4" cy="451.6" rx="49.8" ry="32.0" transform="rotate(55 292.4 451.6)" fill="none" stroke="#000" stroke-width="1.1" />
<ellipse cx="292.4" cy="451.6" rx="47.5" ry="29.7" transform="rotate(55 292.4 451.6)" fill="none" stroke="#000" stroke-width="1.1" />
<path d="M356.7,442.6 L361.3,440.2 L339.1,402.2 L334.5,404.6 Z" fill="#333" stroke="none"/>
<path d="M356.7,442.6 L361.3,440.2 M339.1,402.2 L334.5,404.6" fill="none" stroke="#000" stroke-width="1"/>
<ellipse cx="350.2" cy="421.2" rx="14.5" ry="22.0" transform="rotate(-33 350.2 421.2)" fill="#fff" stroke="#000" stroke-width="1.3" />
<ellipse cx="345.6" cy="423.6" rx="14.5" ry="22.0" transform="rotate(-33 345.6 423.6)" fill="#fff" stroke="#000" stroke-width="1.5" />
<ellipse cx="346.2" cy="423.3" rx="12.6" ry="19.6" transform="rotate(-33 346.2 423.3)" fill="none" stroke="#000" stroke-width="1" />
<ellipse cx="346.8" cy="423.0" rx="10.2" ry="16.8" transform="rotate(-33 346.8 423.0)" fill="#fff" stroke="#000" stroke-width="1.5" />
<ellipse cx="347.8" cy="422.4" rx="9.0" ry="15.4" transform="rotate(-33 347.8 422.4)" fill="none" stroke="#555" stroke-width="0.7" />
<path d="M381.2,353.8 C380.500,347 384,344 389.6,342.5 L414.3,328.4 C415.500,327.800 416.500,327.800 417.2,328.1 L433.4,338.3 C440,343 450,353 456,363 C460,370 462.500,380 463.7,391.2 L458.8,398.3 L439,408.2 L436.2,413.8 C432,417 428,418.700 416.5,420.2 C412,419.500 408,417.3 405.2,415.2 L388.9,373.6 L384.7,358.8 Z" fill="#fff" stroke="#000" stroke-width="1.2"/>
<g fill="none" stroke="#000" stroke-width="1"><path d="M381.2,353.8 L384.7,358.8 L393.2,363 L388.9,373.6"/><path d="M389.600,342.500 C396,343 405,348 413.6,356.600 L415,368.6"/><path d="M392,345.500 C398,346.500 406,351 412,357.500"/><path d="M393.2,344.6 L415.8,332.6 M384.7,358.8 L408,346.500 M388.2,360.2 L410,349 M392,362.500 L411.500,352.500"/><path d="M413.6,356.6 L434.8,345.3 M415.8,358.500 L436,347.500"/><path d="M417.2,328.1 C420,329.500 425,334 433,342.500"/><path d="M415.8,357.3 C424,360 433,371 436.9,381.3 C440,390 441.500,400 439,408.2 C437.500,412 436,414.500 433.4,416.6"/><path d="M415,368.6 C422,371 428,378 430.6,388 C432,395 430,401 426.3,405.3"/><path d="M443.3,350.3 C450,358 456,368 458.8,377.1 C460.500,384 461,388 460.9,392.6 L440.5,403.2"/><path d="M463.7,393.500 L441,405.500"/><path d="M405.2,415.2 C412,416.500 420,414 426.3,408.500 M416.500,420.200 C424,417.500 430,412 432,408"/></g>
<path d="M436.500,342 L440,337 L446,336 L448.500,340 L447,345.500 L443,347" fill="#fff" stroke="#000" stroke-width="1.1"/><ellipse cx="443.800" cy="341" rx="1.600" ry="2.200" fill="#fff" stroke="#000" stroke-width="0.9"/>
<path d="M460.9,371.5 L464.500,370 L477.9,378.500 L477,382 L464.4,385.6 L462.500,380" fill="#fff" stroke="#000" stroke-width="1.1"/><path d="M466.500,374.500 L474.500,379.500 L467,381.500 Z" fill="none" stroke="#000" stroke-width="0.8"/>
<path d="M392.3,420.1 L425.6,404.5 L406.4,369.5 L373.1,385.1 Z" fill="#fff" stroke="none"/>
<path d="M392.3,420.1 L425.6,404.5 M406.4,369.5 L373.1,385.1" fill="none" stroke="#000" stroke-width="1.1"/>
<path d="M378.500,385.200 L414.500,368.500 M381.500,387 L416.500,370.500" fill="none" stroke="#000" stroke-width="0.9"/>
<ellipse cx="382.7" cy="402.6" rx="14.6" ry="20.0" transform="rotate(-33 382.7 402.6)" fill="#fff" stroke="#000" stroke-width="1.3" />
<ellipse cx="383.5" cy="402.2" rx="12.8" ry="18.2" transform="rotate(-33 383.5 402.2)" fill="#fff" stroke="#000" stroke-width="1.1" />

<!-- 68_inlet.svg -->
<ellipse cx="219.3" cy="322.5" rx="12.4" ry="16.0" transform="rotate(-33 219.3 322.5)" fill="none" stroke="#000" stroke-width="1.1" />
<ellipse cx="219.3" cy="322.5" rx="10.8" ry="14.3" transform="rotate(-33 219.3 322.5)" fill="none" stroke="#000" stroke-width="1" />
<path d="M228,333.500 l4.500,-2.500 l1,2.200 l-3.500,4 Z" fill="#222" stroke="#000" stroke-width="0.8"/>
<path d="M206.500,331 L222,322.500 M233.500,316 L240,312.500" stroke="#000" stroke-width="1.1"/>
<path d="M269.1,277 C272,274.500 275,274.500 277.8,275 C282,276.500 285,278.500 287.4,281 C291,285 293,289 293.8,292.9 C294.200,296 294,299 293,300.9 C291.500,303.500 289.500,305.500 287.4,306.5 L285.8,298.5 C285,295 284,291.500 282.6,288.9 C280,284.500 277,281 273.1,278.6 Z" fill="#111" stroke="#000" stroke-width="1.2"/>
<path d="M257.9,282.1 L262,279 L268.3,277 C275,279 281,285 285.8,294.5 L287.4,307.3 L281.8,311.3 L276,311 Z" fill="#fff" stroke="#000" stroke-width="1.3"/>
<path d="M262,279 L264,283 M268.300,277 C274,280 279,286 282.500,295 L283.500,309" fill="none" stroke="#000" stroke-width="1"/>
<path d="M255.8,317.1 L277.6,306.5 L263.4,281.5 L241.6,292.1 Z" fill="#fff" stroke="none"/>
<path d="M255.8,317.1 L277.6,306.5 M263.4,281.5 L241.6,292.1" fill="none" stroke="#000" stroke-width="1"/>
<ellipse cx="270.5" cy="294.0" rx="7.2" ry="14.4" transform="rotate(-31 270.5 294.0)" fill="#fff" stroke="#000" stroke-width="1.15" />
<ellipse cx="266.9" cy="295.8" rx="7.2" ry="14.4" transform="rotate(-31 266.9 295.8)" fill="#fff" stroke="#000" stroke-width="1.15" />
<ellipse cx="263.2" cy="297.5" rx="7.2" ry="14.4" transform="rotate(-31 263.2 297.5)" fill="#fff" stroke="#000" stroke-width="1.15" />
<ellipse cx="259.6" cy="299.3" rx="7.2" ry="14.4" transform="rotate(-31 259.6 299.3)" fill="#fff" stroke="#000" stroke-width="1.15" />
<ellipse cx="256.0" cy="301.1" rx="7.2" ry="14.4" transform="rotate(-31 256.0 301.1)" fill="#fff" stroke="#000" stroke-width="1.15" />
<ellipse cx="252.3" cy="302.8" rx="7.2" ry="14.4" transform="rotate(-31 252.3 302.8)" fill="#fff" stroke="#000" stroke-width="1.15" />
<ellipse cx="248.7" cy="304.6" rx="7.2" ry="14.4" transform="rotate(-31 248.7 304.6)" fill="#fff" stroke="#000" stroke-width="1.15" />
<ellipse cx="248.7" cy="304.6" rx="5.2" ry="11.8" transform="rotate(-31 248.7 304.6)" fill="#fff" stroke="#000" stroke-width="1" />
<path d="M289,286.500 L296,283" stroke="#000" stroke-width="1.1"/>
<path d="M326.1,303.1 L352.6,291.3 L321.2,231.1 L294.7,242.9 Z" fill="#fff" stroke="none"/>
<path d="M326.1,303.1 L352.6,291.3 M321.2,231.1 L294.7,242.9" fill="none" stroke="#000" stroke-width="1.3"/>
<ellipse cx="336.9" cy="261.2" rx="17.0" ry="34.0" transform="rotate(-29 336.9 261.2)" fill="#fff" stroke="#000" stroke-width="1.6" />
<g fill="none" stroke="#000" stroke-width="1.9"><path d="M304.6,238.6 A17,34 -29 0 1 338.2,296.8"/><path d="M312.5,235.0 A17,34 -29 0 1 346.2,293.3"/><path d="M319.9,231.7 A17,34 -29 0 1 353.6,290.0"/><path d="M302.0,239.9 L323.2,230.5"/><path d="M309.6,241.1 L330.8,231.6"/><path d="M318.0,246.5 L339.2,237.1"/><path d="M326.1,255.4 L347.3,246.0"/><path d="M332.7,266.6 L353.9,257.2"/><path d="M336.8,278.4 L358.0,268.9"/><path d="M337.8,289.0 L359.0,279.6"/><path d="M336.0,296.4 L357.2,286.9"/></g>
<path d="M298.7,241.1 A17,34 -29 0 1 332.1,300.2" fill="none" stroke="#000" stroke-width="3.200"/>
<ellipse cx="310.4" cy="273.0" rx="17.0" ry="34.0" transform="rotate(-29 310.4 273.0)" fill="#fff" stroke="#000" stroke-width="2" />
<ellipse cx="311.0" cy="274.2" rx="13.0" ry="20.0" transform="rotate(-29 311.0 274.2)" fill="#111" stroke="#000" stroke-width="1" />
<ellipse cx="312.0" cy="273.9" rx="9.6" ry="15.8" transform="rotate(-29 312.0 273.9)" fill="#111" stroke="#777" stroke-width="0.5" />
<ellipse cx="312.5" cy="273.8" rx="6.2" ry="12.0" transform="rotate(-29 312.5 273.8)" fill="#fff" stroke="#000" stroke-width="1" />
<path d="M307.500,270 l8,-4 M309,278.500 l8.500,-4.500 M310.500,284.500 l6,-3" stroke="#000" stroke-width="1.1"/>
<circle cx="291.800" cy="264" r="0.700" fill="#000"/>

<!-- 70_rear.svg -->
<ellipse cx="447.0" cy="660.7" rx="24.2" ry="15.5" transform="rotate(57 447.0 660.7)" fill="none" stroke="#000" stroke-width="1.9" />
<ellipse cx="498.5" cy="643.5" rx="15.4" ry="25.2" transform="rotate(-31 498.5 643.5)" fill="#fff" stroke="#000" stroke-width="1.8" />
<ellipse cx="496.9" cy="644.4" rx="15.4" ry="25.2" transform="rotate(-31 496.9 644.4)" fill="none" stroke="#000" stroke-width="1" />
<ellipse cx="495.3" cy="645.3" rx="15.4" ry="25.2" transform="rotate(-31 495.3 645.3)" fill="none" stroke="#000" stroke-width="1" />
<path d="M493.0,618.7 L471.8,626.5 L468.7,637.0 L473.7,649.3 L479.0,655.1 L481.7,655.8 L491.5,670.1 L495.5,667.8 L498.9,658.0 L500.4,646.9 L497.1,637.0 L494.4,625.3 Z" fill="#fff" stroke="none"/>
<g fill="none" stroke="#000" stroke-width="1.1"><path d="M492.8,619.5 C489.7,620.9 477.9,625.0 474.3,627.8 C470.7,630.5 471.1,632.6 471.2,635.8 C471.3,639.0 473.6,644.0 474.9,646.9 C476.2,649.8 478.5,652.0 479.2,653.0"/><path d="M489.1,624.1 C487.2,625.0 479.9,627.4 478.0,629.6 C476.0,631.8 476.7,633.7 477.4,637.0 C478.0,640.3 481.0,647.3 481.7,649.3"/><path d="M472.4,638.2 L478.0,636.0"/><path d="M474.9,646.9 L480.4,644.4"/><path d="M489.1,624.1 C488.6,625.4 486.2,629.3 486.0,632.1 C485.8,634.8 487.5,639.3 487.8,640.7"/><path d="M478.0,652.4 L491.5,648.4"/><path d="M479.2,654.5 L492.2,650.6"/><path d="M485.4,628.6 C487.6,629.4 495.1,630.5 498.9,633.3 C502.7,636.1 507.0,641.3 508.2,645.6 C509.4,650.0 508.7,655.5 506.3,659.2 C504.0,662.9 496.1,666.4 494.0,667.8"/><path d="M494.0,667.8 C495.0,666.2 499.1,661.1 500.2,658.0 C501.2,654.9 501.0,652.0 500.2,649.3 C499.4,646.7 496.9,643.5 495.2,641.9 C493.6,640.3 491.1,640.1 490.3,639.7"/><path d="M487.2,633.6 C488.9,634.1 494.2,634.8 497.1,637.0 C500.0,639.2 503.5,643.5 504.5,646.9 C505.5,650.3 504.1,654.5 502.9,657.4 C501.7,660.2 498.1,663.0 497.1,664.1"/><path d="M486.6,641.3 C487.0,640.6 487.6,637.7 488.8,636.8 C490.1,635.8 492.6,635.3 494.0,635.8 C495.4,636.3 496.9,639.1 497.5,639.7"/><path d="M489.1,643.2 C489.4,642.6 490.1,640.1 490.9,639.5 C491.8,638.9 493.7,639.5 494.3,639.5"/><path d="M498.9,633.3 L506.3,629.6"/><path d="M494.0,635.8 L500.8,632.3"/></g>
<ellipse cx="527.1" cy="625.3" rx="7.6" ry="8.4" transform="rotate(-20 527.1 625.3)" fill="#111" stroke="#000" stroke-width="1" />
<ellipse cx="527.6" cy="625.1" rx="4.6" ry="5.6" transform="rotate(-20 527.6 625.1)" fill="#999" stroke="#000" stroke-width="0.8" />
<path d="M525.500,622 l1,6 M528,621.500 l1.200,6.500 M530.200,622.500 l0.600,4.500" stroke="#222" stroke-width="0.8"/>
<ellipse cx="593.0" cy="580.5" rx="55.0" ry="35.0" transform="rotate(57 593.0 580.5)" fill="#fff" stroke="#000" stroke-width="1.2" />
<path d="M606.4,635.6 L621.4,627.6 L564.6,533.4 L549.6,541.4 Z" fill="#fff" stroke="none"/>
<path d="M606.4,635.6 L621.4,627.6 M564.6,533.4 L549.6,541.4" fill="none" stroke="#000" stroke-width="1.1"/>
<path d="M596.1,638.5 L619.3,628.2 L627.9,643.6 L615.8,652.2 L605.5,647 Z" fill="#fff" stroke="#000" stroke-width="1.2"/>
<path d="M605.5,647 L602,640 M615.800,652.200 L614,645.500 L627,638.500 M614,645.500 L603,640.500" fill="none" stroke="#000" stroke-width="1"/>
<path d="M616,646 L626.500,640 L628,643.500 L616.500,650.500 Z" fill="#333"/>
<ellipse cx="578.0" cy="588.5" rx="55.0" ry="35.0" transform="rotate(57 578.0 588.5)" fill="#fff" stroke="#000" stroke-width="2.2" />
<ellipse cx="579.5" cy="587.7" rx="53.0" ry="33.2" transform="rotate(57 579.5 587.7)" fill="none" stroke="#000" stroke-width="0.9" />
<path d="M534.3,604.1 L554,595.5 L558.3,604.1 L546.3,613.6 L540.3,611 Z" fill="none" stroke="#000" stroke-width="1.2"/>
<path d="M537.500,605 L553,598.200 L555.500,603.500 L546,610.800 L541,608.800 Z" fill="none" stroke="#000" stroke-width="0.9"/>
<ellipse cx="589.5" cy="585.5" rx="46.0" ry="28.5" transform="rotate(57 589.5 585.5)" fill="#fff" stroke="#000" stroke-width="1.2" />
<ellipse cx="590.5" cy="585.0" rx="44.0" ry="27.0" transform="rotate(57 590.5 585.0)" fill="none" stroke="#000" stroke-width="0.8" />
<ellipse cx="596.5" cy="588.0" rx="29.0" ry="17.0" transform="rotate(57 596.5 588.0)" fill="#fff" stroke="#000" stroke-width="1.3" />
<ellipse cx="597.5" cy="588.0" rx="26.0" ry="14.5" transform="rotate(57 597.5 588.0)" fill="none" stroke="#000" stroke-width="0.9" />
<path d="M586,570 C589,567.500 593,569 593.500,572.500 L598,575.500 C601,575 603,577.500 602,580 L605,585.500 L609.500,592 C612,596 610,600 606,598.500 L600,599.500 C596,602 591.500,600 591,596 L588,589 C585.500,586 586.500,582 589,581.500 L587.500,576.500 C585,574.500 585,572 586,570 Z" fill="#fff" stroke="#000" stroke-width="1.2"/>
<g fill="none" stroke="#000" stroke-width="0.9"><ellipse cx="589.500" cy="572.500" rx="1.700" ry="2.300"/><ellipse cx="607" cy="595" rx="1.700" ry="2.300"/><path d="M591,579 L599,577.500 M592,584 L602,582 M594,590 L604,587.500 M596,595.500 L605,592.500 M595.500,577 C598,583 600,590 600,597"/></g>
<path d="M561.8,532.9 L572.9,527.2 L600.4,541.5 L602.1,550.9 L592.7,556.9 C590,549 582,543 575,541 C570,539.500 566,539 562.6,538.9 Z" fill="#fff" stroke="#000" stroke-width="1.2"/>
<path d="M561.8,532.9 L590.9,547.5 L592.7,556.9 M590.9,547.5 L600.4,541.5" fill="none" stroke="#000" stroke-width="1"/>
<path d="M592,548.500 L600,543.500 L601.500,550.500 L593.500,555.500 Z" fill="#444"/>
<path d="M593.500,550.500 L600.500,546 M594,553 L601,548.500" stroke="#fff" stroke-width="0.5"/>
<rect x="553.0" y="538.8" width="5.500" height="7" rx="1" fill="#fff" stroke="#000" stroke-width="1.3" transform="rotate(-30 555.8 542.3)"/>
<rect x="535.0" y="564.6" width="5.500" height="7" rx="1" fill="#fff" stroke="#000" stroke-width="1.3" transform="rotate(-10 537.7 568.1)"/>
<rect x="554.8" y="614.4" width="5.500" height="7" rx="1" fill="#fff" stroke="#000" stroke-width="1.3" transform="rotate(-40 557.5 617.9)"/>
<rect x="616.5" y="606.6" width="5.500" height="7" rx="1" fill="#fff" stroke="#000" stroke-width="1.3" transform="rotate(-25 619.3 610.1)"/>
<rect x="596.8" y="559.0" width="5.500" height="7" rx="1" fill="#fff" stroke="#000" stroke-width="1.3" transform="rotate(-30 599.5 562.5)"/>
<rect x="593.2" y="635.0" width="5.500" height="7" rx="1" fill="#fff" stroke="#000" stroke-width="1.3" transform="rotate(-60 596.0 638.5)"/>
<path d="M597,557 l6,3 l-2,5" fill="none" stroke="#000" stroke-width="2"/>
<ellipse cx="566.9" cy="554.3" rx="1.3" ry="1.9" transform="rotate(-20 566.9 554.3)" fill="#fff" stroke="#000" stroke-width="0.9" />
<ellipse cx="568.6" cy="571.5" rx="1.3" ry="1.9" transform="rotate(-20 568.6 571.5)" fill="#fff" stroke="#000" stroke-width="0.9" />
<ellipse cx="573.8" cy="574.9" rx="1.3" ry="1.9" transform="rotate(-20 573.8 574.9)" fill="#fff" stroke="#000" stroke-width="0.9" />
<ellipse cx="600.4" cy="617.0" rx="1.3" ry="1.9" transform="rotate(-20 600.4 617.0)" fill="#fff" stroke="#000" stroke-width="0.9" />

<!-- 75_engine.svg -->
<defs>
<pattern id="perf" width="5" height="5" patternUnits="userSpaceOnUse" patternTransform="rotate(-28)">
<rect width="5" height="5" fill="#333"/><circle cx="2.5" cy="2.5" r="1.500" fill="#fff"/>
</pattern>
<pattern id="perf2" width="5" height="5.500" patternUnits="userSpaceOnUse">
<rect width="5" height="5.500" fill="#333"/><circle cx="2.5" cy="2.700" r="1.600" fill="#fff"/>
</pattern>
</defs>
<!-- crankcase right face -->
<path d="M725.6,526 L741.5,519.6 L771,505 L771.6,565.6 L738.3,589.4 L726.4,580 Z" fill="#fff" stroke="#000" stroke-width="1.3"/>
<!-- base skid -->
<path d="M736.7,581.5 L737.5,590.2 L771.6,572.500" fill="none" stroke="#000" stroke-width="1.2"/>
<!-- right side dark details (carb, wires) -->
<path d="M741,520 L770,505.500 L770,530 L762,548 L741,560 Z" fill="#fff" stroke="#000" stroke-width="1"/>
<path d="M772,497 C777,505 778,520 774,535 C772,545 768,555 765,562" fill="none" stroke="#000" stroke-width="2.2"/>
<path d="M776,496 C782,508 782,524 778,538 C776,546 773,554 770,560" fill="none" stroke="#000" stroke-width="1.3"/>
<path d="M768,500 C771,512 770,530 766,548" fill="none" stroke="#000" stroke-width="1.600"/>
<path d="M780,498 C786,512 786,530 781,545" fill="none" stroke="#000" stroke-width="1"/>
<path d="M742,521 L770,507 M745,528 L766,517.500" stroke="#000" stroke-width="2.400"/>
<path d="M748,515 l4,10 M755,512 l3,9 M761,509 l3,8" stroke="#000" stroke-width="1.600"/>
<ellipse cx="757.500" cy="543.500" rx="6.200" ry="8" fill="#fff" stroke="#000" stroke-width="1.500"/>
<path d="M754,543 C755,539 759,538 761,541 C762.500,545 760,549 756,548.500" fill="none" stroke="#000" stroke-width="1.600"/>
<path d="M741,545 L748,541 L748,556 L741,560 Z" fill="#111"/>
<path d="M728,538 L740,533 L740,549 L729,553 Z" fill="#111"/>
<path d="M750,562 L766,553 L770,568 L756,576 Z" fill="#fff" stroke="#000" stroke-width="1.200"/>
<path d="M738,556 L751,562 L757,577 L744,584 L737,580 Z" fill="#111"/>
<path d="M741,560 l9,4 M742,566 l10,4.500 M743,572 l10,4.500" stroke="#fff" stroke-width="0.600"/>
<path d="M729,560 L737,557 L737,581 L730,577 Z" fill="#222"/>
<!-- crankcase left face -->
<path d="M667,519.6 L671,515.500 L675.500,515.500 L681.2,508.5 L687.6,503.8 L694,504 L698,502.500 L706.6,508.5 L713,512 L716,517 L725.6,526 L727.500,536 L728.8,546.6 L727.500,557 L726.4,568.8 L733.6,583.1 L724,584.500 L716.1,581.5 L709,580.500 L700.3,573.6 L693,572 L687.6,565.6 L680,562.500 L674.9,554.5 L670,549.500 L670.1,540.3 L667.500,531 Z" fill="#fff" stroke="#000" stroke-width="1.800" stroke-linejoin="round"/>
<path d="M671.500,521 L683,511 L690,507 L705,511.500 L721,527 L724,546 L722,566 L727,579 L717,578 L702,570.500 L690,563 L678,553 L673.500,540 Z" fill="none" stroke="#000" stroke-width="0.900"/>
<!-- inner cover plate (dark) -->
<path d="M682,520 L696,514 L722,531 L723,551 L708,555 L683,542 Z" fill="#1a1a1a" stroke="#000" stroke-width="1.200"/>
<path d="M686,523.500 L695,519.500 L699,522 L699,538 L690,541.500 L686,539 Z" fill="#fff" stroke="#000" stroke-width="0.800"/>
<path d="M688.500,529 L698,525 M688.500,534 L698,530.500" stroke="#000" stroke-width="1.200"/>
<ellipse cx="711.500" cy="537.500" rx="5.500" ry="7.500" transform="rotate(-25 711.5 537.5)" fill="#fff" stroke="#000" stroke-width="1.600"/>
<ellipse cx="711.800" cy="537.500" rx="3.200" ry="4.800" transform="rotate(-25 711.8 537.5)" fill="#fff" stroke="#000" stroke-width="0.800"/>
<ellipse cx="676.500" cy="533" rx="4.200" ry="6.200" transform="rotate(-20 676.5 533)" fill="#fff" stroke="#000" stroke-width="1.500"/>
<ellipse cx="677" cy="533.500" rx="2" ry="3.600" transform="rotate(-20 677 533.5)" fill="#fff" stroke="#000" stroke-width="0.800"/>
<ellipse cx="699.500" cy="559" rx="3.800" ry="4.800" fill="#111"/>
<path d="M707,556 L717,552 L722,556 L722,572 L716,575 L708,566 Z" fill="#111"/>
<ellipse cx="715" cy="562" rx="3.200" ry="5" transform="rotate(-25 715 562)" fill="#fff" stroke="#000" stroke-width="1"/>
<path d="M708,570 L726,580 L725,584 L707,575 Z" fill="#111"/>
<g fill="#fff" stroke="#000" stroke-width="1.100">
<circle cx="681" cy="513" r="1.600"/><circle cx="690" cy="506.500" r="1.600"/><circle cx="702" cy="507.500" r="1.600"/><circle cx="714" cy="516" r="1.600"/><circle cx="724.500" cy="529" r="1.600"/><circle cx="726" cy="549" r="1.600"/><circle cx="724" cy="570" r="1.600"/>
<circle cx="671" cy="524" r="1.500"/><circle cx="672.500" cy="544" r="1.500"/><circle cx="679.500" cy="558" r="1.500"/><circle cx="692" cy="568.500" r="1.500"/><circle cx="705.500" cy="577" r="1.500"/><circle cx="719" cy="582.500" r="1.500"/>
</g>
<!-- lever at left -->
<path d="M656.500,525.500 L664,522 L677.500,547 L674,551.500 Z" fill="#111"/>
<path d="M658,526.500 l5,-2 M660,530 l4.500,-2 " stroke="#fff" stroke-width="0.600"/>
<!-- cylinder block between -->
<path d="M687.6,478 L712,466 L716,470 L716,508 L706.6,508.5 L698,502.5 L694,504 L687.6,503.8 Z" fill="#fff" stroke="#000" stroke-width="1.200"/>
<path d="M689,484 L710,474.500 M689,490 L711,480.500 M689,496 L712,486.500 M689,501.500 L712,492.500" stroke="#000" stroke-width="2.2"/>
<path d="M700,488 h7.500 v9 h-7.500 Z" fill="#111"/>
<path d="M712,468 V509 M715.500,470 V512" stroke="#000" stroke-width="1.800"/>
<!-- fuel tank -->
<path d="M718,476.4 L740,491.500 L740,516.500 L716,503.500 Z" fill="#fff" stroke="#000" stroke-width="1.300"/>
<path d="M741,491.500 L793,459.500 C796,458 797,460 797,462 L797,482 C797,486 795,488.500 792,490 L740,516.500 Z" fill="#fff" stroke="#000" stroke-width="1.300"/>
<path d="M721,474.500 L771.500,445.500 C773.500,444.500 775.500,444.500 777,445.500 L793.500,456 C795.500,457.500 795.500,459 793,460.500 L743.500,490.500 C741.500,491.500 739.500,491.500 738,490.500 L721,479 C719,477.500 719,475.500 721,474.500 Z" fill="#fff" stroke="#000" stroke-width="1.400"/>
<path d="M722.500,480.500 L739,491.500 C740.500,492.500 742,492.500 744,491.500 L794,461.500" fill="none" stroke="#000" stroke-width="0.800"/>
<path d="M751,505 L758,499.500 L761,494" fill="none" stroke="#000" stroke-width="1"/>
<path d="M793,488 L797,485" stroke="#000" stroke-width="2"/>
<!-- cap -->
<path d="M746,461 L750,456 L759,454.500 L767,457 L769.500,462 L765,467 L755,468.500 L748,466 Z" fill="#fff" stroke="#000" stroke-width="2.200" stroke-linejoin="round"/>
<path d="M746,461 L746,463.500 L748,468.500 L755,471 L765,469.500 L769.500,464.500 L769.500,462" fill="none" stroke="#000" stroke-width="1.200"/>
<ellipse cx="757.500" cy="461" rx="6" ry="3.600" fill="#fff" stroke="#000" stroke-width="1.200"/><ellipse cx="757.500" cy="460.800" rx="3.800" ry="2.200" fill="#fff" stroke="#000" stroke-width="0.800"/>
<!-- recoil handle -->
<path d="M785,507 L792,504" stroke="#000" stroke-width="3"/>
<path d="M791.500,504 L797.500,501.500 L802.500,503 L806.500,513 L807,522 L802,526 L796.500,525 L793.500,516 Z" fill="#fff" stroke="#000" stroke-width="1.400" stroke-linejoin="round"/>
<path d="M797.500,501.500 L801.500,512 L802,526 M793.500,509 L801,506.500 M794.500,517 L801.500,514.500" fill="none" stroke="#000" stroke-width="0.900"/>
<!-- air cleaner -->
<path d="M727.5,420.1 L736.2,413.8 L769.5,431.2 L771.9,436 L770.3,443.9 L758,450 L738,440 L728,432 Z" fill="#fff" stroke="#000" stroke-width="1.300"/>
<path d="M736.2,413.8 L769.5,431.2" stroke="#000" stroke-width="3"/>
<path d="M741.500,417.500 L732,423.500 M750,422 L740,428.500 L741,436 M759.500,427 L749.500,433.500 L750.500,442 M728.500,424.500 L758.500,441.500 L769,435.500 M758.500,441.500 L758.500,449" fill="none" stroke="#000" stroke-width="1"/>
<!-- muffler body under the guard -->
<path d="M668,446 L724,414.500 L725,436 L707,447 L690,470 L674,478 L668,474 Z" fill="#fff" stroke="#000" stroke-width="1.100"/>
<path d="M671,458 L692,446.500 C696,452 696,460 692,466 L676,476" fill="none" stroke="#000" stroke-width="1.200"/>
<path d="M674,462 L690,476 M679,459 L694,472 M670,466 L684,479" stroke="#000" stroke-width="1.300"/>
<path d="M692,446.500 L722,430" stroke="#000" stroke-width="1"/>
<!-- top-center clutter (carb/linkage) dark -->
<path d="M724.2,429.6 L733.0,427.2 L742.8,432.6 L747.7,442.4 L746.7,451.2 L740.8,454.2 L726.1,442.4 Z" fill="#fff" stroke="#000" stroke-width="1.2"/>
<path d="M726.1,432.1 C735.0,431.1 743.8,439.4 742.8,450.2" fill="none" stroke="#000" stroke-width="2.6"/>
<path d="M747.7,443.4 L751.6,440.4 L754.6,442.4 L758.5,440.4 L761.5,444.3 L760.0,449.3 L755.6,451.7 L751.6,450.2 L748.7,451.2 L747.2,447.3 Z" fill="#111"/>
<path d="M750.7,444.3 L757.5,443.9" stroke="#fff" stroke-width="0.6" fill="none"/>
<path d="M714.3,469.4 L773.7,441.2 L775.0,443.4 L715.3,472.0 Z" fill="#fff" stroke="#000" stroke-width="1.1"/>
<path d="M698.6,433.6 L702.6,429.6 L709.4,426.2 L713.9,429.1 L712.9,438.5 L717.8,442.4 L713.4,449.3 L705.0,447.8 L699.6,440.4 Z" fill="#111"/>
<path d="M704.0,434.0 L708.5,432.1 L708.9,435.5 L704.5,437.5 Z" fill="#fff"/>
<path d="M692.3,452.2 L702.1,447.8 L712.9,449.3 L711.9,456.1 L709.9,472.8 L699.6,473.8 L693.7,463.5 Z" fill="#111"/>
<ellipse cx="701.1" cy="461.5" rx="3.4" ry="4.4" fill="#fff" stroke="#000" stroke-width="0.8"/>
<ellipse cx="701.1" cy="461.5" rx="1.7" ry="2.4" fill="#111"/>
<path d="M694.7,456.1 C695.7,465.0 699.6,470.8 705.5,473.8" fill="none" stroke="#fff" stroke-width="0.7"/>
<path d="M693.7,452.2 C690.8,461.0 694.7,470.8 704.5,476.7" fill="none" stroke="#000" stroke-width="1.2"/>
<path d="M713.9,442.4 L719.3,438.0 L724.2,436.5 L726.1,439.4 L733.5,439.4 L735.4,447.3 L733.0,448.8 L729.1,453.7 L722.2,453.2 L717.3,454.7 L713.4,447.8 Z" fill="#fff" stroke="#000" stroke-width="1.5" stroke-linejoin="round"/>
<path d="M718.8,455.6 L723.2,453.7 L735.0,454.2 L743.8,460.0 L738.9,465.0 L735.0,469.4 L721.2,471.3 L715.3,465.0 Z" fill="#111"/>
<path d="M726.1,459.1 L731.0,457.1 L733.0,461.0 L728.1,463.5 Z" fill="#fff"/>
<path d="M719.3,468.9 L738.9,459.1" stroke="#fff" stroke-width="0.7" fill="none"/>
<path d="M709.4,453.7 L714.3,453.2 L714.5,490.0 L709.6,490.0 Z" fill="#fff" stroke="#000" stroke-width="1.6"/>
<path d="M711.9,453.7 L712.1,490.0" stroke="#000" stroke-width="1" fill="none"/>
<!-- muffler guard: top face, left face, right strip -->
<path d="M644.3,432 L701.4,400.8 L725.9,413.8 L668.1,445.5 Z" fill="url(#perf)" stroke="#000" stroke-width="1.300"/>
<path d="M644.3,432 C640.500,434 639.500,437 639.5,440 L641.9,462.9 L650.6,470.9 L667.3,476.4 L669.6,472.5 L668.1,445.5 Z" fill="url(#perf2)" stroke="#000" stroke-width="1.300"/>
<path d="M668.1,445.5 L725.9,413.8 L725.500,424 L712,431 L711,426 L668.500,450 Z" fill="url(#perf)" stroke="#000" stroke-width="1.100"/>
<path d="M712,421.500 L725.900,413.800 L725.100,436 L720,439 L718,428 Z" fill="url(#perf2)" stroke="#000" stroke-width="1"/>
<path d="M655,438.500 L713,407" stroke="#111" stroke-width="2.600"/>
<!-- small bolt at lower-left of muffler -->
<path d="M682,481 l5,-2.500 l2.500,4.500 l-5,2.500 Z" fill="#111"/>
<path d="M686,485 l4,-2 l1.500,3 l-4,2 Z" fill="#111"/>

<!-- 90_leaders.svg -->
<g class="ld">
<line x1="54.6" y1="385.5" x2="40.9" y2="419.0"/>
<line x1="89.9" y1="392.6" x2="78.1" y2="441.9"/>
<line x1="124.2" y1="401.4" x2="116.3" y2="460.4"/>
<line x1="164.4" y1="413.7" x2="170.8" y2="464.0"/>
<line x1="198.5" y1="394.4" x2="217.8" y2="412.9"/>
<line x1="224.9" y1="382.9" x2="226.7" y2="397.9"/>
<line x1="252.2" y1="365.8" x2="269.8" y2="406.7"/>
<line x1="297.0" y1="347.0" x2="330.0" y2="402.0"/>
<line x1="338.1" y1="322.6" x2="376.9" y2="382.7"/>
<line x1="260.7" y1="222.9" x2="289.8" y2="254.6"/>
<line x1="222.0" y1="244.0" x2="251.0" y2="289.0"/>
<line x1="185.0" y1="261.7" x2="211.4" y2="308.4"/>
<line x1="21.0" y1="540.0" x2="46.7" y2="567.0"/>
<line x1="60.8" y1="521.8" x2="90.7" y2="544.3"/>
<line x1="98.7" y1="508.2" x2="147.0" y2="515.0"/>
<line x1="182.3" y1="546.2" x2="169.6" y2="623.3"/>
<line x1="164.4" y1="558.1" x2="148.5" y2="637.0"/>
<line x1="274.5" y1="521.1" x2="301.8" y2="551.1"/>
<line x1="197.8" y1="566.1" x2="237.5" y2="584.6"/>
<line x1="400.1" y1="584.2" x2="431.7" y2="639.2"/>
<line x1="432.6" y1="567.9" x2="476.7" y2="625.7"/>
<line x1="460.8" y1="551.7" x2="521.6" y2="619.6"/>
<line x1="479.3" y1="541.1" x2="507.5" y2="573.7"/>
<line x1="498.7" y1="529.5" x2="521.6" y2="577.3"/>
<line x1="523.2" y1="517.6" x2="540.0" y2="552.9"/>
<line x1="735.4" y1="388.5" x2="728.4" y2="418.5"/>
<line x1="757.0" y1="380.0" x2="775.3" y2="402.2"/>
<line x1="786.3" y1="415.5" x2="838.0" y2="478.0"/>
<line x1="795.2" y1="355.0" x2="837.5" y2="452.8"/>
<line x1="817.3" y1="348.8" x2="837.5" y2="396.4"/>
<line x1="852.5" y1="325.7" x2="880.0" y2="388.0"/>
<line x1="995.6" y1="419.3" x2="1076.1" y2="509.1"/>
<line x1="1004.7" y1="489.1" x2="1046.0" y2="528.0"/>
<line x1="994.4" y1="513.2" x2="1024.2" y2="540.7"/>
<line x1="962.3" y1="525.8" x2="991.0" y2="555.0"/>
<line x1="806.2" y1="577.9" x2="874.5" y2="622.8"/>
<line x1="804.9" y1="586.7" x2="851.6" y2="635.2"/>
<line x1="804.9" y1="598.1" x2="827.0" y2="648.4"/>
<line x1="664.7" y1="654.8" x2="751.4" y2="686.5"/>
<line x1="663.6" y1="660.7" x2="734.5" y2="701.3"/>
<line x1="663.6" y1="667.0" x2="709.0" y2="710.8"/>
<line x1="617.1" y1="709.8" x2="676.3" y2="734.1"/>
<line x1="615.4" y1="735.6" x2="655.2" y2="748.9"/>
<line x1="597.0" y1="730.5" x2="633.0" y2="755.2"/>
<line x1="589.6" y1="733.0" x2="613.9" y2="764.8"/>
<line x1="581.1" y1="739.4" x2="601.2" y2="772.2"/>
<line x1="534.8" y1="707.5" x2="539.2" y2="719.8"/>
<line x1="514.5" y1="719.8" x2="516.3" y2="730.4"/>
<line x1="698.1" y1="217.0" x2="705.2" y2="219.1"/>
<line x1="696.4" y1="231.6" x2="705.2" y2="232.3"/>
<line x1="700.8" y1="241.7" x2="707.8" y2="237.3"/>
<line x1="708.7" y1="244.8" x2="721.9" y2="249.6"/>
<line x1="719.3" y1="212.6" x2="724.6" y2="216.1"/>
<line x1="742.8" y1="123.5" x2="756.0" y2="120.0"/>
<line x1="927.8" y1="149.0" x2="960.4" y2="134.9"/>
<line x1="927.8" y1="26.4" x2="912.9" y2="49.0"/>
<line x1="758.3" y1="25.9" x2="875.0" y2="37.0"/>
<line x1="758.3" y1="25.9" x2="879.0" y2="134.9"/>
<line x1="758.3" y1="25.9" x2="751.6" y2="102.7"/>
<line x1="758.3" y1="25.9" x2="692.9" y2="204.7"/>
</g>
<!-- 92_overlines.svg -->
<g class="l" style="stroke-width:1.1">
<!-- axis through ring 3 upper -->
<path d="M98,469.2 L136.6,489.9"/>
<!-- through ring 3 lower -->
<path d="M152,527 L171,516.300"/>
<!-- through O-ring 7 -->
<path d="M263,467.300 L282,457.600 M288,454.500 L291,453 M297,450 L327,434.500" />
<!-- inside tube 9 -->
<path d="M366.2,414.7 L391.4,402.1"/>
<!-- through ring 8 -->
<path d="M343.9,425.3 L349.7,422.4"/>
<!-- clamp 35 axis -->
<path d="M206.5,331 L222,322.500"/>
<!-- through O-ring 10 -->
<path d="M432.6,677 L478,652.3"/>
<!-- inside housing 15: dashed axis lines -->
<path d="M540,618 L556,609.500 M563,605.500 L584,594.500" />
<path d="M566,625.400 L588,614"/>
<path d="M529.5,586.1 L538,581.800 M547,577.200 L567,567" />
<path d="M533.9,572.9 L538,570.700 M547,565.700 L566,555"/>
<path d="M547.4,533 L547.4,548 M547.400,554 L547.400,594" />
</g>
<!-- pins 13, 14 -->
<path d="M505.7,573.4 L511,576.700" stroke="#000" stroke-width="2.200" stroke-linecap="round"/><path d="M506,573.600 L510.700,576.500" stroke="#fff" stroke-width="0.800"/>
<ellipse cx="521.800" cy="577.500" rx="1.300" ry="1" fill="#fff" stroke="#000" stroke-width="0.900"/>
<path d="M523,577 L536,570.500" stroke="#000" stroke-width="1"/>

<!-- 99_labels.svg -->
<text x="118.8" y="20.5" textLength="181.8" lengthAdjust="spacingAndGlyphs" style="font-size:25px;font-weight:bold;fill:#e8141c;stroke:none">МД 1100Д80Г</text>
<text x="763.4" y="21.2" style="font-size:22px;text-anchor:middle">a</text>
<text class="t" x="54.6" y="381.7">1</text>
<text class="t" x="88.1" y="389.7">2</text>
<text class="t" x="123.3" y="400.2">3</text>
<text class="t" x="162.7" y="412.6">4</text>
<text class="t" x="194.0" y="394.3">5</text>
<text class="t" x="224.0" y="381.7">6</text>
<text class="t" x="252.5" y="365.6">7</text>
<text class="t" x="292.8" y="346.3">8</text>
<text class="t" x="332.2" y="321.2">9</text>
<text class="t" x="182.7" y="260.5">35</text>
<text class="t" x="220.2" y="241.5">36</text>
<text class="t" x="259.0" y="221.2">37</text>
<text class="t" x="18.5" y="537.5">1</text>
<text class="t" x="56.7" y="520.6">2</text>
<text class="t" x="92.5" y="508.7">3</text>
<text class="t" x="172.3" y="635.7">5</text>
<text class="t" x="147.3" y="650.2">6</text>
<text class="t" x="309.4" y="565.0">33</text>
<text class="t" x="245.4" y="598.9">34</text>
<text class="t" x="394.5" y="581.0">10</text>
<text class="t" x="429.0" y="563.1">11</text>
<text class="t" x="456.4" y="551.0">12</text>
<text class="t" x="477.5" y="536.8">13</text>
<text class="t" x="499.7" y="526.2">14</text>
<text class="t" x="523.2" y="515.4">15</text>
<text class="t" x="730.8" y="386.8">16</text>
<text class="t" x="754.5" y="375.8">17</text>
<text class="t" x="795.2" y="350.8">18</text>
<text class="t" x="817.3" y="344.7">19</text>
<text class="t" x="853.4" y="321.0">20</text>
<text class="t" x="1084.5" y="523.5">19</text>
<text class="t" x="1057.4" y="539.2">18</text>
<text class="t" x="1031.0" y="552.7">17</text>
<text class="t" x="998.6" y="567.7">21</text>
<text class="t" x="882.1" y="635.7">22</text>
<text class="t" x="859.0" y="646.8">23</text>
<text class="t" x="831.0" y="660.9">24</text>
<text class="t" x="766.2" y="697.9">25</text>
<text class="t" x="742.9" y="711.6">26</text>
<text class="t" x="717.5" y="723.9">27</text>
<text class="t" x="689.4" y="743.3">28</text>
<text class="t" x="663.6" y="756.0">29</text>
<text class="t" x="644.0" y="768.7">30</text>
<text class="t" x="623.4" y="777.2">26</text>
<text class="t" x="603.3" y="786.7">29</text>
<text class="t" x="545.4" y="731.9">31</text>
<text class="t" x="518.7" y="745.8">32</text>
<text class="ts" x="732.0" y="255.4">38</text>
<text class="ts" x="692.9" y="251.0">39</text>
<text class="ts" x="687.6" y="236.4">40</text>
<text class="ts" x="690.2" y="222.3">41</text>
<text class="ts" x="723.7" y="211.4">42</text>
<text class="ts" x="766.3" y="126.1">43</text>
<text class="ts" x="916.4" y="156.4">44</text>
<text class="ts" x="932.2" y="23.4">45</text>
</svg>
</body></html>
